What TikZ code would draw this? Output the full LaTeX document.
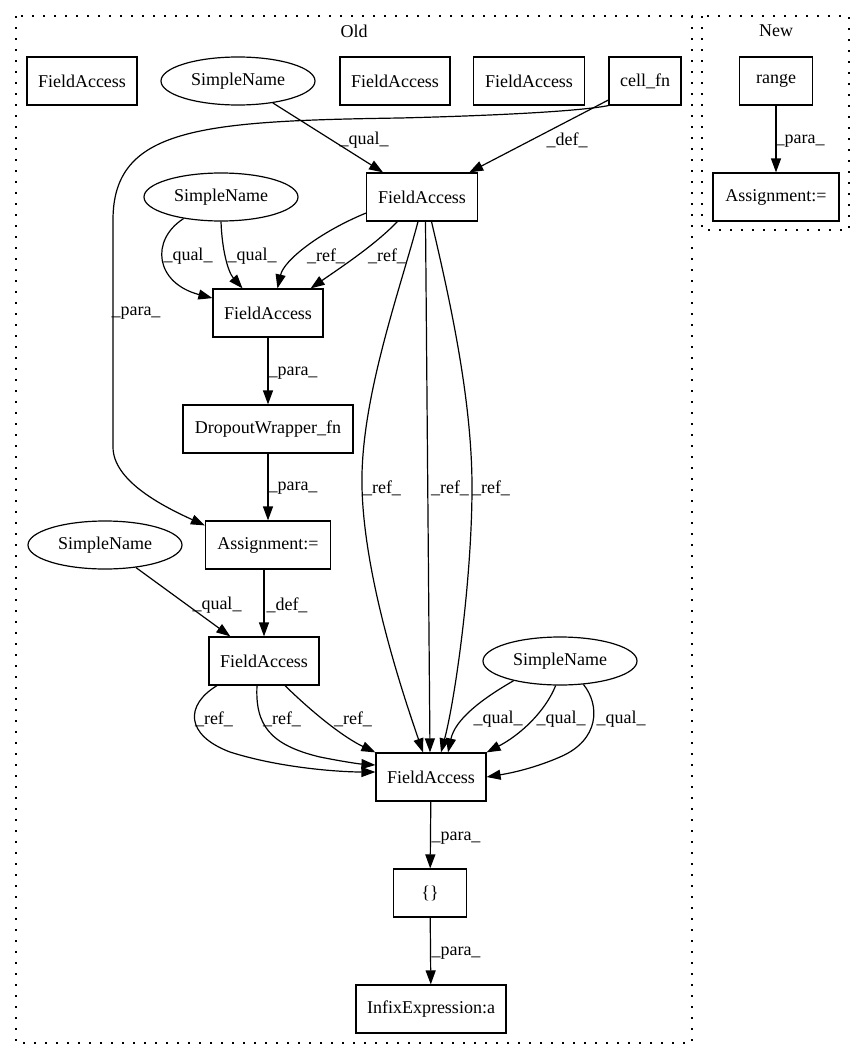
\documentclass[tikz,border=0pt]{standalone}
\usepackage{fontspec}
\setmainfont{Liberation Serif}
\usetikzlibrary{arrows.meta,shapes.geometric}
\begin{document}
\begin{tikzpicture}[x=1pt,y=-1pt,
  every node/.style={font=\fontsize{18}{20}\selectfont},
  box/.style={draw, rectangle, minimum height=48pt, inner sep=0pt, line width=1.2pt},
  sname/.style={draw, ellipse, minimum width=154pt, minimum height=48pt, inner sep=0pt, line width=1.2pt},
  e/.style={line width=1.2pt, -{Triangle[length=14pt,width=10pt]}},
  lbl/.style={inner sep=0pt},
  cluster/.style={draw, line width=1.3pt, dash pattern=on 2.2pt off 8.8pt}]
\useasboundingbox (0,0) rectangle (865,1060);
% clusters
\draw[cluster] (16,16) rectangle (692,1043);
\draw[cluster] (702,16) rectangle (849,230);
\node (oldlbl) at (354,31) {Old};
\node (newlbl) at (776,31) {New};
% nodes
\node[box, minimum width=110pt] (fa1) at (82,81) {FieldAccess};
\node[sname] (sn1) at (238,81) {SimpleName};
\node[box, minimum width=110pt] (fa2) at (395,81) {FieldAccess};
\node[box, minimum width=111pt] (fa3) at (529,81) {FieldAccess};
\node[box, minimum width=72pt] (cell) at (645,81) {cell\_fn};
\node[box, minimum width=73pt] (range) at (776,81) {range};
\node[box, minimum width=126pt] (asgnew) at (776,197) {Assignment:=};
\node[sname] (sn2) at (221,197) {SimpleName};
\node[box, minimum width=111pt] (fatop) at (422,197) {FieldAccess};
\node[box, minimum width=110pt] (famid) at (268,313) {FieldAccess};
\node[box, minimum width=170pt] (drop) at (268,429) {DropoutWrapper\_fn};
\node[sname] (sn3) at (105,545) {SimpleName};
\node[box, minimum width=125pt] (asg) at (268,545) {Assignment:=};
\node[box, minimum width=110pt] (falow) at (264,661) {FieldAccess};
\node[sname] (sn4) at (560,661) {SimpleName};
\node[box, minimum width=110pt] (fabot) at (431,777) {FieldAccess};
\node[box, minimum width=73pt] (brace) at (430,893) {\{\}};
\node[box, minimum width=150pt] (infix) at (431,1009) {InfixExpression:a};
% edges
\draw[e] (sn1) -- (fatop);
\draw[e] (cell) -- (fatop);
\draw[e] (cell.south west) .. controls (575,112) and (480,116) .. (400,118)
  .. controls (200,121) and (113,128) .. (113,220) -- (113,447)
  .. controls (113,480) and (160,505) .. ([yshift=-5pt]asg.north west);
\draw[e] (sn2.210) .. controls (150,240) and (155,283) .. (famid.165);
\draw[e] (sn2.south) .. controls (222,250) and (228,272) .. (famid.136);
\draw[e] (fatop.196) .. controls (320,232) and (284,260) .. (famid.69);
\draw[e] (fatop.225) .. controls (375,245) and (340,268) .. (famid.30);
\draw[e] (famid) -- (drop);
\draw[e] (drop) -- (asg);
\draw[e] (asg.south -| falow.north) -- (falow.north);
\draw[e] (sn3) -- (falow);
\draw[e] ([xshift=-4pt]fatop.south) .. controls (400,290) and (360,400) .. (362,487)
  .. controls (364,580) and (405,700) .. ([xshift=-8pt]fabot.north);
\draw[e] ([xshift=3.5pt]fatop.south) -- ([xshift=-1pt]fabot.north);
\draw[e] ([xshift=9.5pt]fatop.south) .. controls (450,300) and (472,400) .. (472,487)
  .. controls (472,580) and (455,700) .. ([xshift=10pt]fabot.north);
\draw[e] ([xshift=-47pt]falow.south) .. controls (185,705) and (185,735) .. (230,752)
  .. controls (280,768) and (340,772) .. ([yshift=5pt]fabot.west);
\draw[e] ([xshift=-7pt]falow.south) .. controls (255,725) and (270,745) .. (320,757)
  .. controls (345,762) and (360,764) .. ([yshift=12pt]fabot.west);
\draw[e] ([xshift=21pt]falow.south) .. controls (315,715) and (345,738) .. (fabot.north west);
\draw[e] (sn4.203) .. controls (480,700) and (455,720) .. ([xshift=17pt]fabot.north);
\draw[e] (sn4.260) .. controls (545,712) and (520,735) .. (fabot.north east);
\draw[e] (sn4.315) .. controls (600,705) and (600,740) .. (560,757)
  .. controls (530,770) and (505,774) .. (fabot.east);
\draw[e] (fabot) -- (brace);
\draw[e] (brace) -- (infix);
\draw[e] (range) -- (asgnew);
% labels
\node[lbl] (l1) at (364,140) {\_qual\_};
\node[lbl] (l2) at (567,140) {\_def\_};
\node[lbl] (l3) at (136,313) {\_para\_};
\node[lbl] (l4) at (188,256) {\_qual\_};
\node[lbl] (l5) at (252,256) {\_qual\_};
\node[lbl] (l6) at (326,256) {\_ref\_};
\node[lbl] (l7) at (387,256) {\_ref\_};
\node[lbl] (l8) at (293,373) {\_para\_};
\node[lbl] (l9) at (293,488) {\_para\_};
\node[lbl] (l10) at (382,488) {\_ref\_};
\node[lbl] (l11) at (450,488) {\_ref\_};
\node[lbl] (l12) at (491,488) {\_ref\_};
\node[lbl] (l13) at (217,605) {\_qual\_};
\node[lbl] (l14) at (287,605) {\_def\_};
\node[lbl] (l15) at (214,719) {\_ref\_};
\node[lbl] (l16) at (282,719) {\_ref\_};
\node[lbl] (l17) at (353,719) {\_ref\_};
\node[lbl] (l18) at (498,719) {\_qual\_};
\node[lbl] (l19) at (561,719) {\_qual\_};
\node[lbl] (l20) at (621,719) {\_qual\_};
\node[lbl] (l21) at (456,838) {\_para\_};
\node[lbl] (l22) at (456,953) {\_para\_};
\node[lbl] (l23) at (800,141) {\_para\_};
\end{tikzpicture}
\end{document}
